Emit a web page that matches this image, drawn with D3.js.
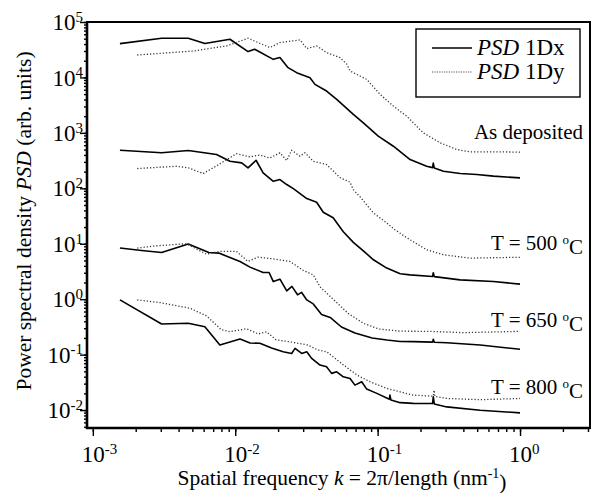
<!DOCTYPE html>
<html>
<head>
<meta charset="utf-8">
<script src="https://cdn.jsdelivr.net/npm/d3@7"></script>
<style>
  body { margin: 0; background: #fff; }
  text { font-family: "Liberation Serif", "Times New Roman", serif; fill: #000; }
</style>
</head>
<body>
<svg id="chart" width="592" height="493"></svg>
<script>
// k in nm^-1, PSD in arb. units
var kAsDepX  = [0.00155, 0.00304, 0.00468, 0.00612, 0.00918, 0.0123, 0.0137, 0.0185, 0.0206, 0.0235, 0.027, 0.0335, 0.0363, 0.0438, 0.0516, 0.0675, 0.0794, 0.101, 0.129, 0.169, 0.221, 0.243, 0.246, 0.25, 0.29, 0.38, 0.497, 0.65, 1.0];
var psdAsDepX = [40800, 50900, 50900, 40800, 48900, 29300, 32200, 21200, 22800, 15000, 12200, 9910, 7500, 5680, 4020, 2150, 1520, 871, 574, 330, 250, 236, 285, 232, 203, 185, 177, 166, 154];

var kAsDepY  = [0.00205, 0.00408, 0.00507, 0.00871, 0.0123, 0.0175, 0.0206, 0.0285, 0.0318, 0.0373, 0.0438, 0.0545, 0.0607, 0.064, 0.0751, 0.0838, 0.104, 0.129, 0.16, 0.209, 0.275, 0.36, 0.446, 0.65, 1.0];
var psdAsDepY = [25400, 28800, 30000, 37000, 50900, 34600, 42600, 47500, 33200, 37000, 28100, 22800, 17300, 13100, 10600, 9240, 4950, 3040, 2000, 1000, 662, 501, 455, 455, 450];

var k500X  = [0.00155, 0.00304, 0.00468, 0.00739, 0.00918, 0.0111, 0.0123, 0.014, 0.0157, 0.0185, 0.0206, 0.023, 0.0256, 0.0318, 0.0373, 0.0415, 0.0487, 0.0574, 0.0675, 0.0794, 0.0934, 0.116, 0.144, 0.169, 0.243, 0.246, 0.25, 0.379, 0.65, 1.0];
var psd500X = [486, 437, 481, 407, 308, 288, 234, 321, 190, 134, 144, 117, 98.8, 65.2, 56.2, 37.1, 29.5, 16.5, 10.6, 7.46, 5.14, 3.64, 2.87, 2.75, 2.57, 3.0, 2.55, 2.23, 2.08, 1.87];

var k500Y  = [0.00205, 0.00387, 0.00468, 0.00596, 0.007, 0.0102, 0.0127, 0.0149, 0.0175, 0.0206, 0.023, 0.0249, 0.0285, 0.0309, 0.0353, 0.0438, 0.0545, 0.064, 0.0675, 0.0773, 0.0934, 0.116, 0.132, 0.169, 0.221, 0.29, 0.446, 1.0];
var psd500Y = [227, 250, 234, 185, 234, 421, 370, 398, 352, 437, 317, 486, 379, 437, 308, 268, 156, 129, 94.7, 65.2, 35.9, 23.7, 17.9, 11.8, 7.79, 6.33, 5.51, 5.7];

var k650X  = [0.00155, 0.0022, 0.00304, 0.00468, 0.00653, 0.00767, 0.0108, 0.0127, 0.0157, 0.0173, 0.0185, 0.0206, 0.023, 0.025, 0.0274, 0.0292, 0.0318, 0.0353, 0.0404, 0.0464, 0.0557, 0.0693, 0.0915, 0.116, 0.144, 0.178, 0.243, 0.246, 0.25, 0.306, 0.525, 1.0];
var psd650X = [8.36, 7.57, 6.97, 9.88, 6.97, 6.79, 4.79, 3.79, 3.03, 3.03, 2.08, 2.30, 1.41, 1.70, 1.20, 1.33, 0.97, 0.822, 0.531, 0.469, 0.315, 0.246, 0.200, 0.184, 0.173, 0.172, 0.168, 0.189, 0.167, 0.164, 0.149, 0.125];

var k650Y  = [0.00205, 0.00281, 0.00455, 0.00629, 0.00767, 0.0102, 0.0123, 0.0145, 0.0182, 0.0242, 0.0259, 0.0301, 0.0353, 0.0394, 0.0415, 0.0489, 0.0619, 0.0794, 0.102, 0.144, 0.233, 0.4, 1.0];
var psd650Y = [8.36, 9.2, 10.0, 6.46, 7.26, 7.26, 4.79, 5.74, 5.36, 4.79, 4.26, 3.29, 2.75, 1.67, 1.47, 0.99, 0.558, 0.368, 0.29, 0.265, 0.263, 0.249, 0.263];

var k800X  = [0.00155, 0.00304, 0.00468, 0.00612, 0.0078, 0.0108, 0.0127, 0.0149, 0.018, 0.0217, 0.0249, 0.0263, 0.0293, 0.0318, 0.0344, 0.0394, 0.0438, 0.0475, 0.0516, 0.0574, 0.064, 0.0693, 0.0773, 0.0838, 0.0987, 0.121, 0.122, 0.124, 0.144, 0.178, 0.243, 0.246, 0.25, 0.306, 0.525, 1.0];
var psd800X = [0.97, 0.357, 0.368, 0.319, 0.149, 0.191, 0.162, 0.16, 0.132, 0.113, 0.105, 0.13, 0.105, 0.113, 0.0857, 0.0649, 0.0604, 0.0459, 0.0491, 0.0398, 0.0372, 0.0282, 0.0324, 0.0239, 0.02, 0.0157, 0.0186, 0.0152, 0.0136, 0.0132, 0.0131, 0.0173, 0.0129, 0.0114, 0.00995, 0.0089];

var k800Y  = [0.00205, 0.00296, 0.00481, 0.00629, 0.00795, 0.00918, 0.012, 0.0145, 0.0166, 0.0193, 0.0256, 0.0324, 0.0381, 0.0438, 0.0502, 0.0619, 0.0727, 0.0885, 0.116, 0.144, 0.178, 0.246, 0.249, 0.252, 0.306, 0.525, 1.0];
var psd800Y = [0.97, 0.869, 0.687, 0.499, 0.284, 0.259, 0.293, 0.236, 0.259, 0.186, 0.166, 0.149, 0.121, 0.113, 0.0857, 0.0565, 0.0419, 0.0324, 0.0246, 0.0213, 0.0186, 0.0178, 0.0229, 0.0177, 0.0162, 0.0154, 0.0162];

var xMajor = [1e-3, 1e-2, 1e-1, 1];
var yMajor = [1e-2, 1e-1, 1, 10, 100, 1e3, 1e4, 1e5];
var sampleLabels = ["As deposited", "T = 500 ", "T = 650 ", "T = 800 "];
var legendLabels = ["1Dx", "1Dy"];

var margin = {top: 22, right: 2, bottom: 65, left: 87},
    width = 592 - margin.left - margin.right,
    height = 493 - margin.top - margin.bottom;

var x = d3.scaleLog().domain([9.1e-4, 3.1]).range([0, width]);
var y = d3.scaleLog().domain([4.75e-3, 1e5]).range([height, 0]);

var svg = d3.select("#chart");
var g = svg.append("g").attr("transform", "translate(" + margin.left + "," + margin.top + ")");

function zip(ks, vs) { return ks.map(function(k, i) { return [k, vs[i]]; }); }

var series = [
  {pts: zip(kAsDepX, psdAsDepX), dotted: false},
  {pts: zip(kAsDepY, psdAsDepY), dotted: true},
  {pts: zip(k500X, psd500X), dotted: false},
  {pts: zip(k500Y, psd500Y), dotted: true},
  {pts: zip(k650X, psd650X), dotted: false},
  {pts: zip(k650Y, psd650Y), dotted: true},
  {pts: zip(k800X, psd800X), dotted: false},
  {pts: zip(k800Y, psd800Y), dotted: true}
];

// minor ticks (2..9 in every decade)
function minors(lo, hi) {
  var out = [];
  for (var e = -4; e <= 5; e++)
    for (var m = 1; m <= 9; m++) {
      var v = m * Math.pow(10, e);
      if (v >= lo && v <= hi) out.push(v);
    }
  return out;
}

var xMinorAxis = d3.axisBottom(x).tickValues(minors(9.1e-4, 3.1)).tickSize(4).tickFormat("");
var yMinorAxis = d3.axisLeft(y).tickValues(minors(4.75e-3, 1e5)).tickSize(3).tickFormat("");
var xAxis = d3.axisBottom(x).tickValues(xMajor).tickSize(8).tickFormat("");
var yAxis = d3.axisLeft(y).tickValues(yMajor).tickSize(7).tickFormat("");

g.append("g").attr("transform", "translate(0," + height + ")").call(xMinorAxis);
g.append("g").call(yMinorAxis);
var gx = g.append("g").attr("transform", "translate(0," + height + ")").call(xAxis);
var gy = g.append("g").call(yAxis);
g.selectAll(".domain").remove();
g.selectAll(".tick line").attr("stroke", "#000").attr("stroke-width", 1.4);

function powLabel(sel) {
  sel.each(function(d) {
    var t = d3.select(this).text(null).style("font-size", "23px");
    t.append("tspan").text("10");
    t.append("tspan").attr("dy", "-0.55em").style("font-size", "15px")
      .text(Math.round(Math.log10(d)));
  });
}

gx.selectAll(".tick text")
  .attr("y", 34).attr("dy", 0).attr("x", -11.5)
  .attr("text-anchor", "start").call(powLabel);
gy.selectAll(".tick text")
  .attr("x", -4).attr("dy", "0.33em")
  .attr("text-anchor", "end").call(powLabel);

// curves
var line = d3.line().x(function(d) { return x(d[0]); }).y(function(d) { return y(d[1]); });
g.selectAll("path.curve").data(series).enter().append("path")
  .attr("class", "curve")
  .attr("d", function(s) { return line(s.pts); })
  .attr("fill", "none")
  .attr("stroke", function(s) { return s.dotted ? "#333" : "#000"; })
  .attr("stroke-width", function(s) { return s.dotted ? 1.3 : 1.6; })
  .attr("stroke-dasharray", function(s) { return s.dotted ? "1.2,2" : null; })
  .attr("stroke-linejoin", "round");

// frame
g.append("rect").attr("width", width).attr("height", height)
  .attr("fill", "none").attr("stroke", "#000").attr("stroke-width", 2);
g.append("path").attr("d", "M0,0V" + height + "H" + width)
  .attr("fill", "none").attr("stroke", "#000").attr("stroke-width", 2.6);

// sample labels
var labelY = [117, 228, 305, 372];
sampleLabels.forEach(function(s, i) {
  var t = g.append("text").attr("x", width - 7).attr("y", labelY[i])
    .attr("text-anchor", "end").style("font-size", "21px");
  t.append("tspan").text(s);
  if (i > 0) {
    t.append("tspan").attr("dy", "-0.45em").style("font-size", "13px").text("o");
    t.append("tspan").attr("dy", "0.45em").text("C");
  }
});

// legend
var lg = g.append("g").attr("transform", "translate(329,7)");
lg.append("rect").attr("width", 164).attr("height", 68)
  .attr("fill", "#fff").attr("stroke", "#000").attr("stroke-width", 1.4);
legendLabels.forEach(function(s, i) {
  var yy = 19 + i * 24;
  lg.append("line").attr("x1", 16).attr("x2", 56).attr("y1", yy).attr("y2", yy)
    .attr("stroke", i ? "#555" : "#000").attr("stroke-width", i ? 1.2 : 1.5)
    .attr("stroke-dasharray", i ? "1.2,1.2" : null);
  var t = lg.append("text").attr("x", 61).attr("y", yy + 7).style("font-size", "23px");
  t.append("tspan").style("font-style", "italic").text("PSD");
  t.append("tspan").text(" " + s);
});

// axis titles
var xt = g.append("text").attr("x", 255).attr("y", height + 57)
  .attr("text-anchor", "middle").style("font-size", "21.5px");
xt.append("tspan").text("Spatial frequency ");
xt.append("tspan").style("font-style", "italic").text("k");
xt.append("tspan").text(" = 2\u03c0/length (nm");
xt.append("tspan").attr("dy", "-0.5em").style("font-size", "14px").text("-1");
xt.append("tspan").attr("dy", "0.5em").text(")");

var yt = g.append("text").attr("transform", "translate(-56," + (height / 2 - 4) + ") rotate(-90)")
  .attr("text-anchor", "middle").style("font-size", "21.5px");
yt.append("tspan").text("Power spectral density ");
yt.append("tspan").style("font-style", "italic").text("PSD");
yt.append("tspan").text(" (arb. units)");
</script>
</body>
</html>
